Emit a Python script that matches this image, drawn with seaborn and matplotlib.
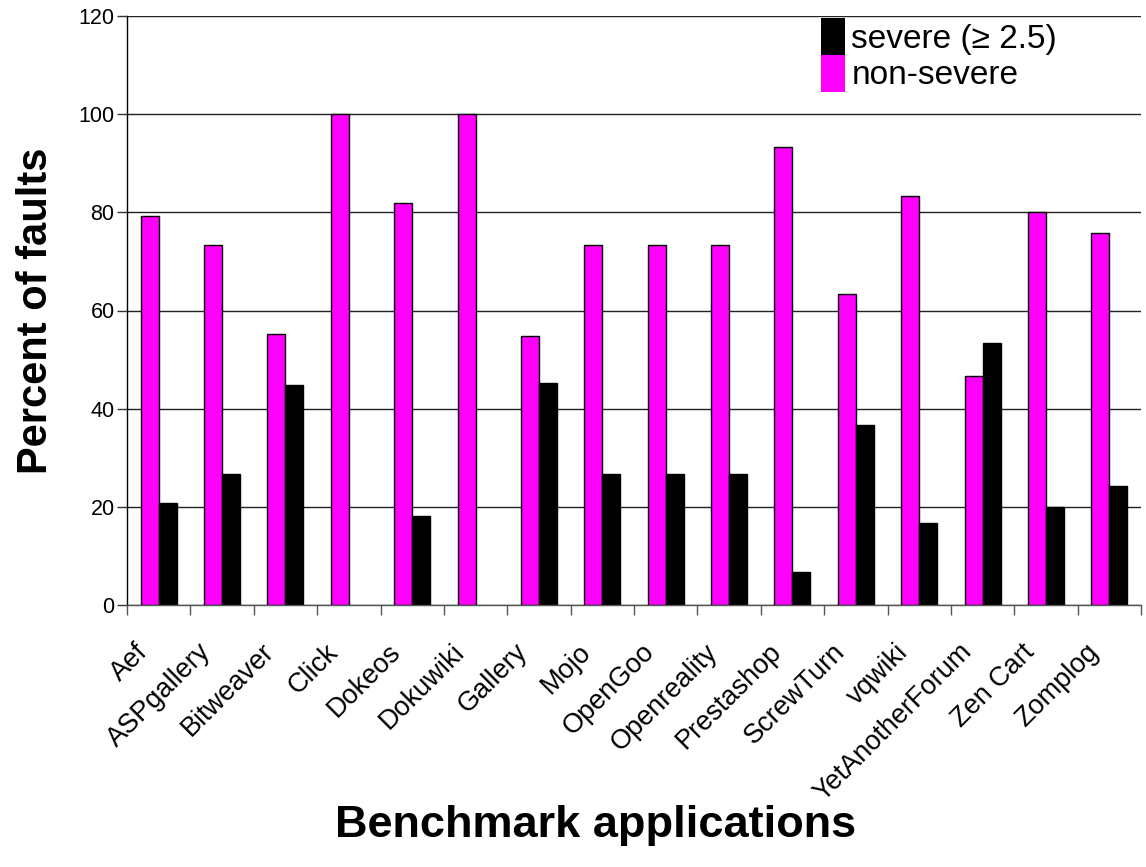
import matplotlib
matplotlib.use("Agg")
import matplotlib.pyplot as plt
import matplotlib.transforms as mtransforms
import seaborn as sns
import pandas as pd
import numpy as np

# Share of faults per benchmark application, split by severity
applications = ["Aef", "ASPgallery", "Bitweaver", "Click", "Dokeos", "Dokuwiki",
                "Gallery", "Mojo", "OpenGoo", "Openreality", "Prestashop",
                "ScrewTurn", "vqwiki", "YetAnotherForum", "Zen Cart", "Zomplog"]
non_severe = [79.3, 73.3, 55.2, 100.0, 81.8, 100.0, 54.8, 73.3, 73.3, 73.3,
              93.3, 63.3, 83.3, 46.7, 80.0, 75.8]
severe = [20.7, 26.7, 44.8, 0.0, 18.2, 0.0, 45.2, 26.7, 26.7, 26.7,
          6.7, 36.7, 16.7, 53.3, 20.0, 24.2]
severity_labels = ["non-severe", "severe (\u2265 2.5)"]

df = pd.DataFrame({
    "application": applications * 2,
    "percent": non_severe + severe,
    "severity": [severity_labels[0]] * len(applications) + [severity_labels[1]] * len(applications),
})

sns.set_theme(style="white")
plt.rcParams["font.family"] = ["Liberation Sans", "DejaVu Sans"]
plt.rcParams["text.color"] = "black"
plt.rcParams["axes.labelcolor"] = "black"
plt.rcParams["xtick.color"] = "black"
plt.rcParams["ytick.color"] = "black"

fig = plt.figure(figsize=(11.46, 8.67), dpi=100)
ax = fig.add_axes([127 / 1146, 1 - 605 / 867, (1141 - 127) / 1146, (605 - 16) / 867])

sns.barplot(data=df, x="application", y="percent", hue="severity",
            hue_order=severity_labels, order=applications,
            palette=["#FF00FF", "#000000"], width=0.57, gap=0,
            edgecolor="black", linewidth=1, saturation=1, ax=ax, legend=True)

# empty bars leave no outline on the baseline
for patch in ax.patches:
    if patch.get_height() == 0:
        patch.set_linewidth(0)

ax.set_ylim(0, 120)
ax.set_xlim(-0.5, len(applications) - 0.5)
ax.set_yticks(np.arange(0, 121, 20))
ax.yaxis.grid(True, color="#222222", linewidth=1)
ax.xaxis.grid(False)
ax.set_axisbelow(True)

for side in ["top", "right"]:
    ax.spines[side].set_visible(False)
ax.spines["left"].set_color("black")
ax.spines["bottom"].set_color("#555555")
ax.spines["left"].set_linewidth(1)
ax.spines["bottom"].set_linewidth(1)

# tick marks sit between categories, labels at category centres
ax.set_xticks(np.arange(-0.5, len(applications), 1.0), minor=True)
ax.tick_params(axis="x", which="minor", direction="out", length=7, width=1,
               color="#555555", bottom=True)
ax.tick_params(axis="x", which="major", length=0, pad=31, labelsize=19.5)
ax.tick_params(axis="y", which="major", direction="out", length=7, width=1,
               color="#333333", left=True, labelsize=15.5, pad=2)
ax.set_xticks(range(len(applications)))
ax.set_xticklabels(applications, rotation=45, ha="right", va="center",
                   rotation_mode="anchor")
shift = mtransforms.ScaledTranslation(-0.15, 0, fig.dpi_scale_trans)
for lbl in ax.get_xticklabels():
    lbl.set_transform(lbl.get_transform() + shift)

ax.set_ylabel("Percent of faults", fontsize=30, fontweight="bold")
ax.yaxis.set_label_coords(-0.070, 0.5)
ax.set_xlabel("Benchmark applications", fontsize=32.5, fontweight="bold", va="center")
ax.xaxis.set_label_coords((596 - 127) / 1014, (605 - 825) / 589)

handles, labels = ax.get_legend_handles_labels()
ax.get_legend().remove()
fs = 24
fig.legend([handles[1], handles[0]], [labels[1], labels[0]],
           loc="upper left", bbox_to_anchor=(821 / 1146, 1 - 18 / 867),
           frameon=False, fontsize=fs, handlelength=0.73, handleheight=1.32,
           handletextpad=0.18, labelspacing=0.0, borderpad=0, borderaxespad=0)

fig.savefig("out.png", dpi=100)
